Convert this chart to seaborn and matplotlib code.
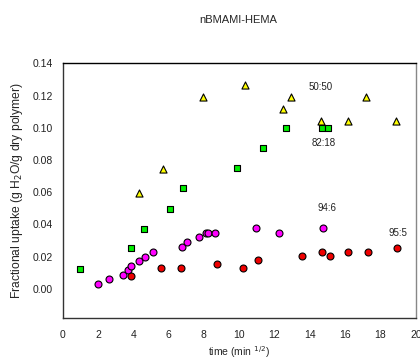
import matplotlib
matplotlib.use("Agg")
import matplotlib.pyplot as plt
import seaborn as sns
import pandas as pd

# 50:50 (yellow triangles)
x_5050 = [4.34, 5.70, 7.93, 10.33, 12.46, 12.92, 14.63, 16.15, 17.18, 18.88]
y_5050 = [0.0597, 0.0744, 0.119, 0.1266, 0.1115, 0.119, 0.1044, 0.1044, 0.119, 0.1044]
# 82:18 (green squares)
x_8218 = [0.98, 3.87, 4.59, 6.08, 6.83, 9.86, 11.37, 12.65, 14.69, 15.01]
y_8218 = [0.0126, 0.0252, 0.0374, 0.0498, 0.0629, 0.0751, 0.0875, 0.0999, 0.0999, 0.0999]
# 94:6 (magenta circles)
x_946 = [1.98, 2.62, 3.43, 3.70, 3.87, 4.34, 4.66, 5.10, 6.74, 7.06, 7.74, 8.12, 8.25, 8.63, 10.95, 12.24, 14.73]
y_946 = [0.0031, 0.006, 0.0087, 0.0116, 0.0143, 0.0174, 0.020, 0.0232, 0.026, 0.0292, 0.032, 0.035, 0.035, 0.035, 0.0378, 0.035, 0.0378]
# 95:5 (red circles)
x_955 = [3.87, 5.57, 6.70, 8.76, 10.23, 11.05, 13.58, 14.67, 15.13, 16.15, 17.28, 18.96]
y_955 = [0.0077, 0.013, 0.013, 0.0157, 0.013, 0.0182, 0.0207, 0.0232, 0.0207, 0.0232, 0.0232, 0.0256]

series_names = ["50:50", "82:18", "94:6", "95:5"]
label_x = [14.62, 14.76, 14.96, 18.98]
label_y = [0.1255, 0.0904, 0.0504, 0.0345]

xt = [0, 2, 4, 6, 8, 10, 12, 14, 16, 18, 20]
yt = [0.00, 0.02, 0.04, 0.06, 0.08, 0.10, 0.12, 0.14]

frames = []
for name, xs, ys in zip(series_names, [x_5050, x_8218, x_946, x_955],
                        [y_5050, y_8218, y_946, y_955]):
    frames.append(pd.DataFrame({"time": xs, "uptake": ys, "series": name}))
df = pd.concat(frames, ignore_index=True)

sns.set_style("white")
plt.rcParams["font.family"] = ["Liberation Sans", "DejaVu Sans"]

fig = plt.figure(figsize=(4.2, 3.6), dpi=100)
ax = fig.add_axes([0.149, 0.117, 0.841, 0.707])

palette = {"50:50": "#FFFF00", "82:18": "#00EE00", "94:6": "#FF00FF", "95:5": "#EE0000"}
markers = {"50:50": "^", "82:18": "s", "94:6": "o", "95:5": "o"}
sizes = {"50:50": 26, "82:18": 22, "94:6": 25, "95:5": 25}
for name in series_names:
    sub = df[df["series"] == name]
    sns.scatterplot(data=sub, x="time", y="uptake", color=palette[name],
                    marker=markers[name], s=sizes[name], edgecolor="black",
                    linewidth=0.8, ax=ax, legend=False, zorder=3)

for name, lx, ly in zip(series_names, label_x, label_y):
    ax.text(lx, ly, name, fontsize=7, ha="center", va="center", color="#222222")

ax.set_xlim(0, 20)
ax.set_ylim(-0.018, 0.14)
ax.set_xticks(xt)
ax.set_yticks(yt)
ax.set_yticklabels([f"{v:.2f}" for v in yt])
ax.tick_params(axis="both", direction="out", length=3, width=0.8, labelsize=7.5,
               colors="#222222", pad=4)
ax.tick_params(axis="x", pad=6)

for side in ["left", "bottom", "top", "right"]:
    ax.spines[side].set_visible(True)
    ax.spines[side].set_linewidth(1.0)
ax.spines["top"].set_color("black")
ax.spines["left"].set_color("#333333")
ax.spines["bottom"].set_color("#333333")
ax.spines["right"].set_color("#888888")

ax.set_xlabel("time (min $^{1/2}$)", fontsize=7.5, labelpad=3)
ax.set_ylabel("Fractional uptake (g H$_2$O/g dry polymer)", fontsize=8.7)
ax.yaxis.set_label_coords(-0.105, 0.5)
fig.text(0.568, 0.945, "nBMAMI-HEMA", fontsize=8, ha="center", va="center")

fig.savefig("out.png", dpi=100)
